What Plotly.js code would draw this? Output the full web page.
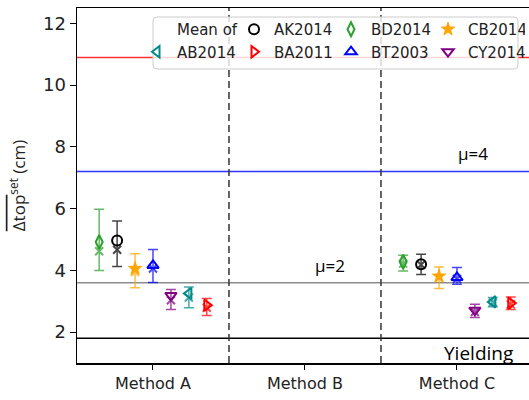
<!DOCTYPE html>
<html>
<head>
<meta charset="utf-8">
<script src="https://cdn.plot.ly/plotly-3.0.1.min.js"></script>
<style>html,body{margin:0;padding:0;background:#fff;}#chart{width:529px;height:400px;}</style>
</head>
<body>
<div id="chart"></div>
<script>
// ---- data ----
const methods = ['Method A', 'Method B', 'Method C'];
const seriesNames = ['BD2014', 'AK2014', 'CB2014', 'BT2003', 'CY2014', 'AB2014', 'BA2011'];
const seriesColors = ['#2ca02c', '#000000', '#ffa500', '#0000ff', '#800080', '#008b8b', '#ff0000'];
const seriesSymbols = ['diamond-tall-open', 'circle-open', 'star', 'triangle-up-open', 'triangle-down-open', 'triangle-left-open', 'triangle-right-open'];
const legendRanks = [3, 2, 4, 7, 8, 5, 6];

// mean marker values (Method A, Method C), in series order
const meanMethodA = [4.92, 4.97, 4.06, 4.16, 3.19, 3.25, 2.87];
const meanMethodC = [4.28, 4.20, 3.81, 3.77, 2.71, 2.98, 2.94];
// cross marker values
const crossMethodA = [4.62, 4.67, 3.95, 4.06, 3.03, 3.12, 2.79];
const crossMethodC = [4.22, 4.18, 3.75, 3.72, 2.65, 2.96, 2.90];
// error bar ends
const upperMethodA = [5.98, 5.60, 4.54, 4.68, 3.38, 3.46, 3.09];
const lowerMethodA = [4.00, 4.13, 3.44, 3.61, 2.73, 2.79, 2.54];
const upperMethodC = [4.49, 4.52, 4.11, 4.09, 2.90, 3.12, 3.14];
const lowerMethodC = [3.98, 3.87, 3.41, 3.55, 2.47, 2.82, 2.73];

// reference lines
const refValues = [10.9, 7.2, 3.6, 1.8];
const refColors = ['#ff3333', '#3333ff', '#8c8c8c', '#000000'];
const refLabels = ['', '\u03bc=4', '\u03bc=2', 'Yielding'];
const dividers = [0.5, 1.5];

// ---- build ----
const methodIdx = [0, 2];
const groupStep = 0.118;
const traces = [];

seriesNames.forEach((name, i) => {
  const off = (i - 3) * groupStep;
  const xs = methodIdx.map(m => m + off);
  const means = [meanMethodA[i], meanMethodC[i]];
  const crosses = [crossMethodA[i], crossMethodC[i]];
  const ups = [upperMethodA[i], upperMethodC[i]];
  const lows = [lowerMethodA[i], lowerMethodC[i]];
  traces.push({
    type: 'scatter', mode: 'markers', x: xs, y: crosses, showlegend: false,
    hoverinfo: 'skip',
    marker: {symbol: 'x-thin-open', size: 8, color: seriesColors[i], line: {width: 2, color: seriesColors[i]}},
    error_y: {type: 'data', symmetric: false,
      array: ups.map((u, k) => u - crosses[k]),
      arrayminus: lows.map((l, k) => crosses[k] - l),
      color: seriesColors[i], thickness: 1.5, width: 5},
    opacity: 0.72
  });
  traces.push({
    type: 'scatter', mode: 'markers', x: xs, y: means, name: name,
    legendrank: legendRanks[i],
    marker: {symbol: seriesSymbols[i], size: 10,
      color: seriesColors[i], line: {width: seriesSymbols[i] === 'star' ? 1 : 2, color: seriesColors[i]}}
  });
});
traces.push({
  type: 'scatter', mode: 'markers', x: [null], y: [null], name: 'Mean of',
  legendrank: 1, marker: {color: 'rgba(0,0,0,0)', size: 1}
});

// plot-area geometry (px) used only to express the legend frame in paper units
const L = 77, R = 529, T = 8, B = 363;
const px = v => (v - L) / (R - L);
const py = v => (B - v) / (B - T);
function roundedBox(x0, y0, x1, y1, r) {
  const rx = r / (R - L), ry = r / (B - T);
  const a = px(x0), b = px(x1), c = py(y1), d = py(y0);
  return `M${a + rx},${d} L${b - rx},${d} Q${b},${d} ${b},${d - ry} L${b},${c + ry} Q${b},${c} ${b - rx},${c} ` +
         `L${a + rx},${c} Q${a},${c} ${a},${c + ry} L${a},${d - ry} Q${a},${d} ${a + rx},${d} Z`;
}

const shapes = [];
refValues.forEach((v, i) => {
  shapes.push({type: 'line', xref: 'paper', x0: 0, x1: 1, yref: 'y', y0: v, y1: v,
    line: {color: refColors[i], width: 1.5}, layer: 'below'});
});
dividers.forEach(d => {
  shapes.push({type: 'line', xref: 'x', x0: d, x1: d, yref: 'paper', y0: 0, y1: 1,
    line: {color: '#333333', width: 1.5, dash: '7px,4px'}, layer: 'below'});
});
shapes.push({type: 'path', xref: 'paper', yref: 'paper', path: roundedBox(153, 17, 518, 69, 4),
  fillcolor: 'rgba(255,255,255,0.8)', line: {color: '#cccccc', width: 1}, layer: 'above'});

const annotations = [
  {x: 2.105, y: 7.8, xref: 'x', yref: 'y', text: refLabels[1], showarrow: false,
   font: {family: 'Open Sans', size: 17, color: '#000'}},
  {x: 1.165, y: 4.15, xref: 'x', yref: 'y', text: refLabels[2], showarrow: false,
   font: {family: 'Open Sans', size: 17, color: '#000'}},
  {x: 2.14, y: 1.33, xref: 'x', yref: 'y', text: refLabels[3], showarrow: false,
   font: {family: 'Open Sans', size: 19, color: '#000'}}
];

const layout = {
  width: 529, height: 400,
  margin: {l: 77, r: 0, t: 8, b: 37, autoexpand: false},
  paper_bgcolor: '#fff', plot_bgcolor: '#fff',
  showlegend: true,
  xaxis: {range: [-0.5, 2.474], tickvals: [0, 1, 2], ticktext: methods,
    showgrid: false, zeroline: false, showline: true, mirror: true, linecolor: '#000', linewidth: 1.5,
    ticks: 'outside', ticklen: 5, tickcolor: '#000',
    tickfont: {family: 'DejaVu Sans', size: 16, color: '#222'}},
  yaxis: {range: [1.0, 12.5], tickvals: [2, 4, 6, 8, 10, 12],
    showgrid: false, zeroline: false, showline: true, linecolor: '#000', linewidth: 1.5,
    ticks: 'outside', ticklen: 6, tickcolor: '#000',
    tickfont: {family: 'DejaVu Sans', size: 18, color: '#222'},
    title: {text: '<span style="text-decoration:overline">\u0394top</span><sup>set</sup> (cm)',
      font: {family: 'Open Sans', size: 17, color: '#222'}, standoff: 13}},
  legend: {orientation: 'h', x: px(137), y: 0.986, xanchor: 'left', yanchor: 'top',
    bgcolor: 'rgba(0,0,0,0)', borderwidth: 0,
    font: {family: 'DejaVu Sans', size: 15, color: '#222'},
    entrywidth: 52, itemwidth: 30, tracegroupgap: 0},
  shapes: shapes,
  annotations: annotations
};

Plotly.newPlot('chart', traces, layout, {displayModeBar: false, staticPlot: true});
</script>
</body>
</html>
